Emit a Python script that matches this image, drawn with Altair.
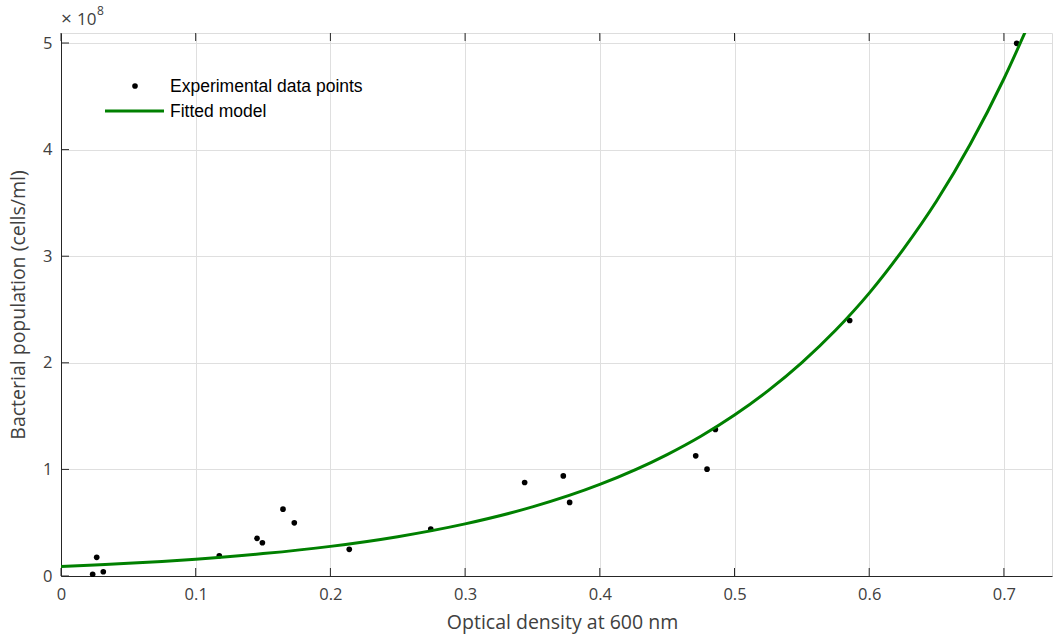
import altair as alt
import pandas as pd

# Experimental data (x: optical density, y: cells/ml)
od = [0.0235, 0.0265, 0.0314, 0.1175, 0.1455, 0.1495, 0.1648, 0.1732, 0.214,
      0.2745, 0.3442, 0.3729, 0.3776, 0.4712, 0.4796, 0.4858, 0.5855, 0.7095]
cells = [0.016e8, 0.175e8, 0.04e8, 0.19e8, 0.353e8, 0.312e8, 0.627e8, 0.499e8, 0.25e8,
         0.44e8, 0.877e8, 0.939e8, 0.69e8, 1.127e8, 1.002e8, 1.374e8, 2.397e8, 4.997e8]

# Fitted model curve
fit_x = [0.0, 0.025, 0.05, 0.1, 0.15, 0.2, 0.25, 0.3, 0.35, 0.4, 0.45, 0.475, 0.5,
         0.525, 0.55, 0.575, 0.6, 0.625, 0.65, 0.675, 0.7, 0.725]
fit_y = [0.090e8, 0.104e8, 0.119e8, 0.158e8, 0.210e8, 0.278e8, 0.369e8, 0.489e8, 0.648e8,
         0.859e8, 1.139e8, 1.311e8, 1.510e8, 1.739e8, 2.002e8, 2.305e8, 2.654e8, 3.06e8,
         3.518e8, 4.05e8, 4.665e8, 5.37e8]

x_ticks = [0, 0.1, 0.2, 0.3, 0.4, 0.5, 0.6, 0.7]
y_ticks = [0, 1e8, 2e8, 3e8, 4e8, 5e8]
legend_labels = ["Experimental data points", "Fitted model"]

W, H = 991, 543
FONT = "Open Sans"
LFONT = "Liberation Sans"
AX = "#262626"
LAB = "#404040"
GREEN = "#008000"

x_scale = alt.Scale(domain=[0, 0.7357], nice=False, zero=False)
y_scale = alt.Scale(domain=[0, 5.094e8], nice=False, zero=False)

pts = pd.DataFrame({"x": od, "y": cells})
fit = pd.DataFrame({"x": fit_x, "y": fit_y})
xt = pd.DataFrame({"v": x_ticks})
yt = pd.DataFrame({"v": y_ticks})

x_axis = alt.Axis(values=x_ticks, format="~g", ticks=False, domain=True, domainColor=AX,
                  grid=True, gridColor="#dfdfdf", labelFont=FONT, labelFontSize=16.5,
                  labelColor=LAB, labelPadding=10, labelFlush=False,
                  title="Optical density at 600 nm", titleX=501,
                  titleFont=FONT, titleFontSize=19.5, titleFontWeight="normal",
                  titleColor=LAB, titlePadding=11)
y_axis = alt.Axis(values=y_ticks, labelExpr="datum.value/1e8", ticks=False, domain=True,
                  domainColor=AX, grid=True, gridColor="#dfdfdf", labelFont=FONT,
                  labelFontSize=16.5, labelColor=LAB, labelPadding=9, labelFlush=False,
                  title="Bacterial population (cells/ml)", titleFont=FONT, titleFontSize=19.5,
                  titleFontWeight="normal", titleColor=LAB, titlePadding=14)

base_pts = alt.Chart(pts).mark_circle(size=32, color="black", opacity=1).encode(
    x=alt.X("x:Q", scale=x_scale, axis=x_axis),
    y=alt.Y("y:Q", scale=y_scale, axis=y_axis),
)

line = alt.Chart(fit).mark_line(color=GREEN, strokeWidth=3, clip=True,
                                interpolate="monotone").encode(
    x=alt.X("x:Q", scale=x_scale),
    y=alt.Y("y:Q", scale=y_scale),
)

# inward ticks
bottom_ticks = alt.Chart(xt).mark_rule(color=AX, strokeWidth=1).encode(
    x=alt.X("v:Q", scale=x_scale), y=alt.value(H), y2=alt.value(H - 8))
top_ticks = alt.Chart(xt).mark_rule(color=AX, strokeWidth=1).encode(
    x=alt.X("v:Q", scale=x_scale), y=alt.value(0), y2=alt.value(8))
left_ticks = alt.Chart(yt).mark_rule(color=AX, strokeWidth=1).encode(
    y=alt.Y("v:Q", scale=y_scale), x=alt.value(0), x2=alt.value(8))

# legend
leg_dot = alt.Chart(pd.DataFrame({"a": [0]})).mark_circle(size=32, color="black", opacity=1).encode(
    x=alt.value(74), y=alt.value(53))
leg_line = alt.Chart(pd.DataFrame({"a": [0]})).mark_rule(color=GREEN, strokeWidth=3).encode(
    x=alt.value(44), x2=alt.value(103), y=alt.value(78))
leg_text = alt.Chart(pd.DataFrame({"t": legend_labels, "yy": [59, 84]})).mark_text(
    align="left", baseline="alphabetic", font=LFONT, fontSize=17.5, color="black").encode(
    x=alt.value(109), y=alt.Y("yy:Q", scale=None), text="t:N")

# exponent label
exp_x = alt.Chart(pd.DataFrame({"a": [0]})).mark_text(
    align="left", baseline="alphabetic", font=FONT, fontSize=19, color=LAB, text="×").encode(
    x=alt.value(0), y=alt.value(-8))
exp_main = alt.Chart(pd.DataFrame({"a": [0]})).mark_text(
    align="left", baseline="alphabetic", font=FONT, fontSize=17, color=LAB, text="10").encode(
    x=alt.value(16), y=alt.value(-8))
exp_sup = alt.Chart(pd.DataFrame({"a": [0]})).mark_text(
    align="left", baseline="alphabetic", font=FONT, fontSize=12, color=LAB, text="8").encode(
    x=alt.value(36), y=alt.value(-18))

chart = alt.layer(
    base_pts, line, bottom_ticks, top_ticks, left_ticks,
    leg_dot, leg_line, leg_text, exp_x, exp_main, exp_sup,
).properties(
    width=W, height=H,
    autosize=alt.AutoSizeParams(type="none"),
    padding={"left": 61, "top": 33, "right": 1, "bottom": 62},
).configure_view(
    stroke=AX, strokeWidth=1
).configure(background="white")

chart.save("out.html", embed_options={"renderer": "svg", "actions": False})
